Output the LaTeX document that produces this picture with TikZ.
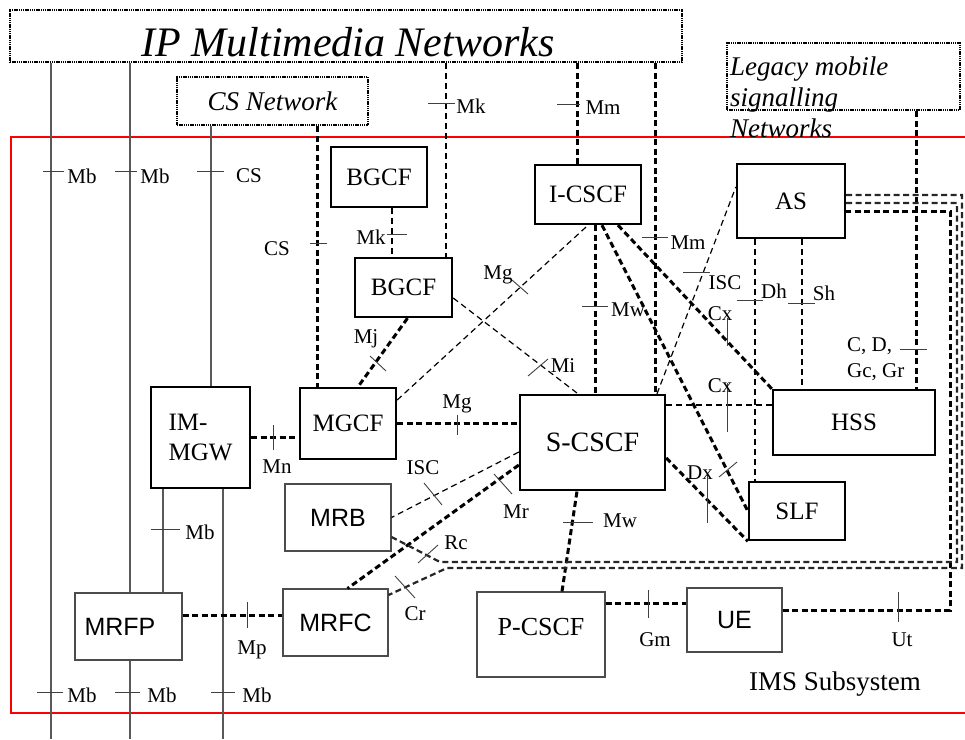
\documentclass[tikz,border=0pt]{standalone}
\usepackage{fontspec}
\setmainfont{Liberation Serif}
\newfontfamily\arialfam{Liberation Sans}

\begin{document}
\begin{tikzpicture}[x=1pt, y=-1pt,
  box/.style={draw, line width=2.4pt, inner sep=0pt, font=\fontsize{25}{30}\selectfont},
  grbox/.style={draw=black!70, line width=1.1pt, inner sep=0pt, font=\arialfam\fontsize{25}{30}\selectfont},
  netbox/.style={draw, line width=2.8pt, dash pattern=on 1.4pt off 0.8pt, inner sep=0pt, font=\itshape\fontsize{27}{31}\selectfont},
  lbl/.style={font=\fontsize{21}{26}\selectfont, inner sep=0pt},
  link/.style={draw=black!65, line width=1.1pt},
  sig/.style={line width=1.2pt, dash pattern=on 6pt off 4pt},
  bus/.style={line width=3pt, dash pattern=on 6pt off 3.5pt},
  rbus/.style={line width=2.2pt, black!85, dash pattern=on 6pt off 3.5pt},
  tk/.style={draw=black!75, line width=0.9pt}]
\useasboundingbox (0,0) rectangle (965,739);

% outside networks
\node[netbox, minimum width=672pt, minimum height=52pt] (ipnet) at (346,36) {};
\node[font=\itshape\fontsize{42}{48}\selectfont, inner sep=0pt] (ipname) at (348,42) {IP Multimedia Networks};
\node[netbox, minimum width=191pt, minimum height=48pt] (csnet) at (272.5,101) {CS Network};
\node[netbox, minimum width=233pt, minimum height=67pt] (legacy) at (843.5,76.5) {};

% IMS subsystem
\draw[red, line width=1.8pt] (11,137) rectangle (985,713);
\node[font=\fontsize{27}{31}\selectfont, inner sep=0pt] (imsname) at (835,684) {IMS Subsystem};
\node[font=\itshape\fontsize{27}{31}\selectfont, align=left, anchor=west, inner sep=0pt] (legname) at (730,97) {Legacy mobile\\signalling\\Networks};

% functions
\node[box, minimum width=96pt, minimum height=60pt] (bgcfa) at (379,177) {BGCF};
\node[box, minimum width=97pt, minimum height=59pt] (bgcfb) at (403.5,287.5) {BGCF};
\node[box, minimum width=106pt, minimum height=59pt] (icscf) at (588,194.5) {I-CSCF};
\node[box, minimum width=108pt, minimum height=74pt] (as) at (791,201) {AS};
\node[box, minimum width=99pt, minimum height=101pt, align=left] (immgw) at (200.5,437.5) {IM-\\MGW};
\node[box, minimum width=96pt, minimum height=71pt] (mgcf) at (348,423.5) {MGCF};
\node[box, minimum width=145pt, minimum height=95pt, font=\fontsize{28}{32}\selectfont] (scscf) at (592.5,442.5) {S-CSCF};
\node[box, minimum width=162pt, minimum height=65pt] (hss) at (854,422.5) {HSS};
\node[box, minimum width=96pt, minimum height=58pt] (slf) at (797,511) {SLF};
\node[grbox, minimum width=106pt, minimum height=67pt] (mrb) at (338,517.5) {MRB};
\node[grbox, minimum width=107pt, minimum height=67pt, text width=88pt, align=left] (mrfp) at (128.5,626.5) {MRFP};
\node[grbox, minimum width=105pt, minimum height=67pt] (mrfc) at (335.5,622.5) {MRFC};
\node[grbox, minimum width=128pt, minimum height=85pt, text depth=16pt, font=\fontsize{26}{30}\selectfont] (pcscf) at (541,634.5) {P-CSCF};
\node[grbox, minimum width=95pt, minimum height=64pt] (ue) at (734.5,620) {UE};

% user plane lines
\coordinate (bA) at (51,739);
\coordinate (bB) at (130,739);
\coordinate (bC) at (223,739);
\draw[link] (51,0 |- ipnet.south) -- (bA);
\draw[link] (130,0 |- ipnet.south) -- (130,0 |- mrfp.north);
\draw[link] (130,0 |- mrfp.south) -- (bB);
\draw[link] (211,0 |- csnet.south) -- (211,0 |- immgw.north);
\draw[link] (163,0 |- immgw.south) -- (163,0 |- mrfp.north);
\draw[link] (223,0 |- immgw.south) -- (bC);

% thick signalling
\draw[bus] (317,0 |- csnet.south) -- (317,0 |- mgcf.north);
\draw[bus] (577,0 |- ipnet.south) -- (577,0 |- icscf.north);
\draw[bus] (655,0 |- ipnet.south) -- (655,0 |- scscf.north);
\draw[bus] ([xshift=4pt]bgcfb.south) -- ([xshift=10pt]mgcf.north);
\draw[bus] (immgw.east) -- (mgcf.west |- immgw.east);
\draw[bus] (mgcf.east) -- (scscf.west |- mgcf.east);
\draw[bus] (595,0 |- icscf.south) -- (595,0 |- scscf.north);
\draw[bus] ([xshift=30pt]icscf.south) -- (hss.north west);
\draw[bus] ([xshift=14pt]icscf.south) -- (slf.west);
\draw[bus] ([yshift=-15.5pt]scscf.east) -- (slf.south west);
\draw[bus] ([yshift=-22.5pt]scscf.west) -- ([xshift=12pt]mrfc.north);
\draw[bus] ([xshift=21pt]pcscf.north) -- ([xshift=-15.5pt]scscf.south);
\draw[bus] (pcscf.east |- 0,603) -- (ue.west |- 0,603);
\draw[bus] (mrfp.east |- 0,615) -- (mrfc.west |- 0,615);
\draw[bus] (916,0 |- legacy.south) -- (916,0 |- hss.north);
\draw[bus] (ue.east |- 0,610) -- (950,610) -- (950,211) -- (as.east |- 0,211);
\draw[rbus] (as.east |- 0,203) -- (957,203) -- (957,562) -- (440,562) -- (mrb.east |- 0,537);
\draw[rbus] (as.east |- 0,195) -- (962,195) -- (962,568) -- (447,568) -- (mrfc.east |- 0,595);

% thin signalling
\draw[sig] (446,0 |- ipnet.south) -- (446,0 |- bgcfb.north);
\draw[sig] (392,0 |- bgcfa.south) -- (392,0 |- bgcfb.north);
\draw[sig] (mgcf.east |- 0,400) -- (icscf.south);
\draw[sig] (bgcfb.east |- 0,298) -- (578,0 |- scscf.north);
\draw[sig] (scscf.east |- 0,405) -- (hss.west |- 0,405);
\draw[sig] (657,0 |- scscf.north) -- (as.west |- 0,187);
\draw[sig] (755,0 |- as.south) -- (755,0 |- slf.north);
\draw[sig] (802,0 |- as.south) -- (802,0 |- hss.north);
\draw[sig] (scscf.west |- 0,452) -- (mrb.east);

% reference point ticks
\draw[tk] (43,171) -- (64,171);
\draw[tk] (115,171) -- (137,171);
\draw[tk] (197,171) -- (224,171);
\draw[tk] (310,243) -- (327,243);
\draw[tk] (387,234) -- (407,234);
\draw[tk] (428,103) -- (455,103);
\draw[tk] (557,104) -- (580,104);
\draw[tk] (642,237) -- (668,237);
\draw[tk] (582,306) -- (608,306);
\draw[tk] (683,272) -- (710,272);
\draw[tk] (737,300) -- (763,300);
\draw[tk] (788,303) -- (815,303);
\draw[tk] (900,349) -- (927,349);
\draw[tk] (151,529) -- (180,529);
\draw[tk] (563,522) -- (593,522);
\draw[tk] (37,692) -- (63,692);
\draw[tk] (115,692) -- (140,692);
\draw[tk] (211,692) -- (235,692);
\draw[tk] (273,425) -- (273,450);
\draw[tk] (457,415) -- (457,435);
\draw[tk] (727,318) -- (727,346);
\draw[tk] (727,383) -- (727,432);
\draw[tk] (707,473) -- (707,523);
\draw[tk] (648,590) -- (648,618);
\draw[tk] (898,592) -- (898,622);
\draw[tk] (247,602) -- (247,628);
\draw[tk] (370,356) -- (386,371);
\draw[tk] (512,280) -- (528,294);
\draw[tk] (528,376) -- (548,359);
\draw[tk] (719,477) -- (737,462);
\draw[tk] (424,483) -- (442,505);
\draw[tk] (494,474) -- (512,494);
\draw[tk] (418,563) -- (438,545);
\draw[tk] (395,576) -- (415,598);

% reference point names
\node[lbl] (lmb1) at (82,176) {Mb};
\node[lbl] (lmb2) at (155,176) {Mb};
\node[lbl] (lcs1) at (249,176) {CS};
\node[lbl] (lcs2) at (277,249) {CS};
\node[lbl] (lmk1) at (371,237) {Mk};
\node[lbl] (lmk2) at (471,106) {Mk};
\node[lbl] (lmm1) at (603,108) {Mm};
\node[lbl] (lmm2) at (688,243) {Mm};
\node[lbl] (lmg1) at (498,275) {Mg};
\node[lbl] (lmj) at (366,339) {Mj};
\node[lbl] (lmi) at (563,366) {Mi};
\node[lbl] (lmw1) at (628,310) {Mw};
\node[lbl] (lisc1) at (725,283) {ISC};
\node[lbl] (lcx1) at (720,314) {Cx};
\node[lbl] (ldh) at (774,291) {Dh};
\node[lbl] (lsh) at (824,293) {Sh};
\node[lbl, align=left, anchor=west] (lcd) at (847,359) {C, D,\\Gc, Gr};
\node[lbl] (lcx2) at (720,386) {Cx};
\node[lbl] (lmg2) at (457,404) {Mg};
\node[lbl] (lmn) at (277,467) {Mn};
\node[lbl] (lisc2) at (423,468) {ISC};
\node[lbl] (lmr) at (516,512) {Mr};
\node[lbl] (ldx) at (700,473) {Dx};
\node[lbl] (lmb3) at (200,532) {Mb};
\node[lbl] (lmw2) at (620,521) {Mw};
\node[lbl] (lrc) at (456,543) {Rc};
\node[lbl] (lcr) at (415,614) {Cr};
\node[lbl] (lmp) at (252,650) {Mp};
\node[lbl] (lgm) at (655,640) {Gm};
\node[lbl] (lut) at (902,640) {Ut};
\node[lbl] (lmb4) at (82,695) {Mb};
\node[lbl] (lmb5) at (162,695) {Mb};
\node[lbl] (lmb6) at (257,695) {Mb};
\end{tikzpicture}
\end{document}
